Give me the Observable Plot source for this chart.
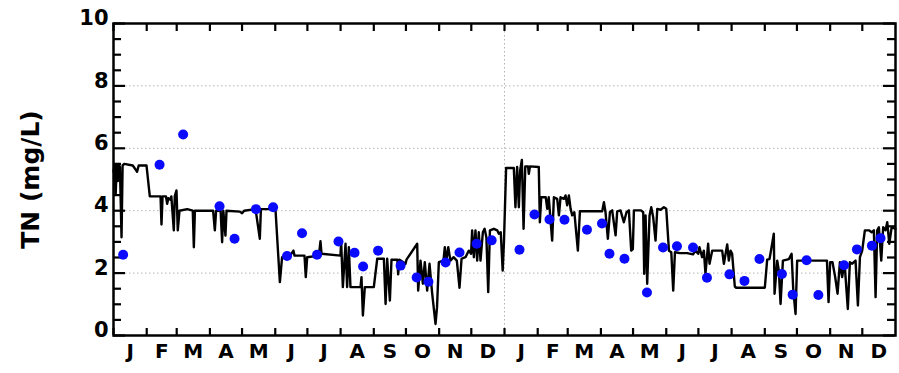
<!DOCTYPE html>
<html>
<head>
<meta charset="utf-8">
<script src="https://cdn.jsdelivr.net/npm/d3@7"></script>
<script src="https://cdn.jsdelivr.net/npm/@observablehq/plot@0.6"></script>
<style>
  html, body { margin: 0; padding: 0; background: #fff; }
  #chart svg { display: block; }
</style>
</head>
<body>
<div id="chart"></div>
<script>
// Two-year record of total nitrogen (TN): simulated daily series and sampled observations.
// Days are counted from 1 January of the first year.
const firstDay = Date.UTC(2013, 0, 1);
const lastDay = Date.UTC(2015, 0, 1);

const monthLetters = ["J", "F", "M", "A", "M", "J", "J", "A", "S", "O", "N", "D"];
const yLabels = [0, 2, 4, 6, 8, 10];
const yGridValues = [2, 4, 6, 8];

// Simulated daily TN (mg/L): day offset and value at each change of the series
const modelDay = [
  0, 1, 2, 3, 4, 5, 6, 7.5, 8.5, 10, 18, 21, 22, 23.5, 30.8, 33.9, 43.9, 44.8, 45.8, 49,
  50.1, 51.2, 53.2, 54, 56.3, 57.2, 58.8, 60, 61.6, 68.8, 74, 75, 76, 93, 94.6, 95.8, 100, 101.4, 102.5, 104.5,
  105.5, 118, 120, 122, 132.6, 136.6, 137.6, 151.2, 155.3, 157.4, 162, 166, 168, 169, 178.3, 179.5, 180.8, 191.7, 193.2, 194.2,
  211.9, 212.5, 214.1, 216.6, 218.1, 219.7, 221.2, 230.6, 231.5, 232.8, 234.6, 243, 246.2, 252.4, 254, 255.5, 258, 259.5, 265, 265.7,
  267, 272.6, 273.5, 283.5, 284.4, 286.6, 288.8, 290.6, 292.8, 295, 297.5, 300.6, 302, 303.7, 308, 309.3, 310.5, 312.5, 314.5, 317.5,
  320.5, 323, 324.9, 328.6, 331.7, 333.8, 334.8, 336.4, 337.9, 339.5, 341, 342.6, 344.8, 346.4, 348.1, 349.8, 351.4, 355.1, 358.2, 359.7,
  361.5, 363.3, 364.5, 366.5, 373.7, 375.2, 376.8, 378.4, 379.6, 381.2, 382.8, 384.4, 387, 387.7, 388.8, 397, 398, 399.3, 403.5, 404.9,
  406.3, 409.5, 411.1, 414.2, 415.8, 417.3, 420.4, 422, 423.5, 425.1, 426.7, 428.2, 430.2, 433.5, 435.4, 456.2, 457.8, 459.3, 461.5, 463.4,
  465.5, 468.7, 470.2, 473.3, 476.4, 478.9, 481.1, 483.3, 484.8, 485.8, 492.4, 494.5, 495.4, 496.7, 498.2, 500.4, 502, 503.8, 506, 507.6,
  510.7, 513.8, 516, 518.5, 520.7, 522.5, 524.1, 529, 535.6, 541, 543.3, 545.8, 547, 549.5, 551.1, 552.6, 555.1, 556.4, 558.9, 568.2,
  569.8, 572.9, 574.4, 576, 577.5, 580, 581.3, 608, 610.2, 612.4, 614.3, 616.4, 617.1, 619.6, 621.1, 622.7, 624.9, 630.5, 633, 634.6,
  636.7, 638.2, 666, 667.5, 669, 671.2, 673.7, 675.9, 678.1, 680.2, 682.4, 685.5, 687.4, 689.6, 692.7, 694.9, 696.8, 698.9, 701.4, 705.2,
  707.7, 709.8, 711.4, 712.9, 714.5, 716.7, 718.5, 720.7, 722.3, 724.2, 726.4, 730
];
const modelTN = [
  5.25, 5.5, 4.5, 5.5, 4.95, 5.5, 5.4, 3.15, 5.45, 5.5, 5.45, 5.3, 5.25, 5.45, 5.45, 4.46, 4.46, 3.56, 4.46, 4.46,
  4.22, 4.4, 4.35, 4.46, 3.37, 4.47, 4.65, 3.37, 4.0, 4.05, 4.0, 2.83, 4.0, 4.0, 3.37, 4.0, 4.0, 2.99, 4.0, 3.2,
  4.0, 3.97, 3.92, 4.0, 4.05, 3.1, 4.05, 4.05, 1.71, 2.51, 2.56, 2.62, 2.72, 2.56, 2.56, 1.87, 2.51, 2.56, 3.02, 2.62,
  2.56, 3.02, 1.55, 2.94, 1.55, 2.83, 1.55, 1.55, 1.87, 0.64, 1.55, 1.55, 2.46, 2.46, 1.01, 2.46, 1.12, 2.43, 2.43, 1.96,
  2.43, 2.3, 2.43, 2.94, 1.44, 2.4, 1.66, 2.35, 1.44, 2.3, 1.34, 0.37, 0.9, 2.35, 2.4, 2.83, 2.35, 2.83, 2.4, 2.51,
  2.4, 1.53, 2.46, 2.51, 2.72, 2.62, 3.37, 2.51, 3.37, 2.4, 3.31, 2.4, 3.31, 3.42, 3.15, 1.39, 3.37, 3.42, 3.37, 3.26,
  3.31, 2.08, 3.0, 5.37, 5.37, 4.11, 5.4, 4.11, 5.29, 5.63, 3.42, 5.42, 5.42, 5.18, 5.42, 5.4, 3.63, 4.43, 4.43, 4.06,
  4.43, 3.04, 4.43, 4.38, 3.85, 4.43, 4.38, 4.49, 4.17, 4.49, 4.06, 3.85, 3.95, 2.72, 3.98, 3.98, 4.27, 3.95, 3.1, 3.95,
  4.01, 3.21, 3.98, 4.01, 3.63, 3.95, 4.01, 2.72, 2.77, 4.01, 4.01, 3.95, 1.98, 3.85, 1.66, 3.85, 4.11, 3.79, 3.04, 4.06,
  4.03, 4.11, 4.06, 2.72, 2.67, 1.44, 2.67, 2.64, 2.64, 2.6, 2.72, 2.62, 2.83, 2.51, 2.72, 1.98, 2.94, 2.3, 2.72, 2.72,
  2.3, 2.92, 2.4, 2.72, 2.62, 1.57, 1.53, 1.53, 2.43, 2.45, 2.83, 3.26, 1.34, 2.4, 2.08, 1.01, 2.4, 2.45, 2.62, 1.44,
  0.69, 2.4, 2.4, 1.07, 2.35, 2.35, 1.87, 1.34, 2.35, 1.87, 2.35, 0.85, 2.35, 2.3, 2.4, 0.96, 2.51, 2.72, 3.37, 3.37,
  3.31, 3.37, 1.23, 3.37, 3.47, 2.4, 3.47, 3.37, 3.63, 2.94, 3.47, 3.42
];

// Measured TN (mg/L) at sampling days
const obsDay = [
  9, 43, 65, 99, 113, 133, 149, 162, 176, 190, 210, 225, 233, 247, 268, 283, 294, 310, 323, 339,
  353, 379, 393, 407, 421, 442, 456, 463, 477, 498, 513, 526, 541, 554, 575, 589, 603, 624, 634, 647,
  658, 682, 694, 708, 716
];
const obsTN = [
  2.59, 5.47, 6.44, 4.14, 3.10, 4.05, 4.11, 2.55, 3.28, 2.59, 3.01, 2.65, 2.21, 2.72, 2.24, 1.86, 1.72, 2.34, 2.66, 2.94,
  3.05, 2.75, 3.88, 3.72, 3.71, 3.39, 3.59, 2.62, 2.46, 1.38, 2.82, 2.86, 2.82, 1.85, 1.96, 1.75, 2.45, 1.97, 1.31, 2.41,
  1.30, 2.25, 2.76, 2.88, 3.12
];

const toDate = (day) => new Date(firstDay + day * 864e5);
const model = modelDay.map((d, i) => ({date: toDate(d), tn: modelTN[i]}));
const obs = obsDay.map((d, i) => ({date: toDate(d), tn: obsTN[i]}));

const monthStarts = d3.utcMonth.range(new Date(firstDay), new Date(lastDay));
const monthMids = monthStarts.map((m) => new Date((+m + +d3.utcMonth.offset(m, 1)) / 2));
const yearBreaks = d3.utcYear.range(new Date(firstDay + 864e5), new Date(lastDay));

const W = 899, H = 373;
const mL = 113, mR = 4, mT = 23, mB = 38;
const pw = W - mL - mR, ph = H - mT - mB;
const yTicks = d3.range(0, 10.001, 0.5);
const yMajor = yTicks.filter((v) => v % 2 === 0);
const yMinor = yTicks.filter((v) => v % 2 !== 0);
const font = "DejaVu Sans";

const chart = Plot.plot({
  width: W,
  height: H,
  marginLeft: mL,
  marginRight: mR,
  marginTop: mT,
  marginBottom: mB,
  style: {fontFamily: font, background: "#fff", color: "#000"},
  x: {type: "utc", domain: [new Date(firstDay), new Date(lastDay)], axis: null},
  y: {domain: [0, 10], axis: null},
  marks: [
    // dotted reference grid
    Plot.ruleY(yGridValues, {stroke: "#b4b4b4", strokeWidth: 1, strokeDasharray: "1.5,2.5"}),
    Plot.ruleX(yearBreaks, {stroke: "#b4b4b4", strokeWidth: 1, strokeDasharray: "1.5,2.5"}),
    // inward ticks on all four sides
    Plot.tickY(yMinor, {y: (d) => d, insetRight: pw - 8, strokeWidth: 2.2}),
    Plot.tickY(yMajor, {y: (d) => d, insetRight: pw - 12, strokeWidth: 2.2}),
    Plot.tickY(yMinor, {y: (d) => d, insetLeft: pw - 8, strokeWidth: 2.2}),
    Plot.tickY(yMajor, {y: (d) => d, insetLeft: pw - 12, strokeWidth: 2.2}),
    Plot.tickX(monthStarts, {x: (d) => d, insetTop: ph - 7, strokeWidth: 2.2}),
    Plot.tickX(monthStarts, {x: (d) => d, insetBottom: ph - 8, strokeWidth: 2.2}),
    // simulated daily series
    Plot.line(model, {x: "date", y: "tn", stroke: "#000", strokeWidth: 2.4, strokeLinejoin: "round"}),
    // observations
    Plot.dot(obs, {x: "date", y: "tn", r: 5, fill: "#0a0aff", stroke: "none"}),
    // tick labels
    Plot.text(yLabels, {
      y: (d) => d, text: (d) => String(d), frameAnchor: "left", textAnchor: "end",
      dx: -5, dy: -5, fontSize: 21, fontWeight: "bold", fill: "#000"
    }),
    Plot.text(monthMids, {
      x: (d) => d, text: (d) => monthLetters[d.getUTCMonth()], frameAnchor: "bottom",
      dy: 22, fontSize: 20, fontWeight: "bold", fill: "#000"
    }),
    Plot.text(["TN (mg/L)"], {
      frameAnchor: "left", textAnchor: "middle", dx: -83, rotate: -90,
      fontSize: 25, fontWeight: "bold", fill: "#000"
    }),
    Plot.frame({stroke: "#000", strokeWidth: 2.5})
  ]
});

document.getElementById("chart").append(chart);
</script>
</body>
</html>
